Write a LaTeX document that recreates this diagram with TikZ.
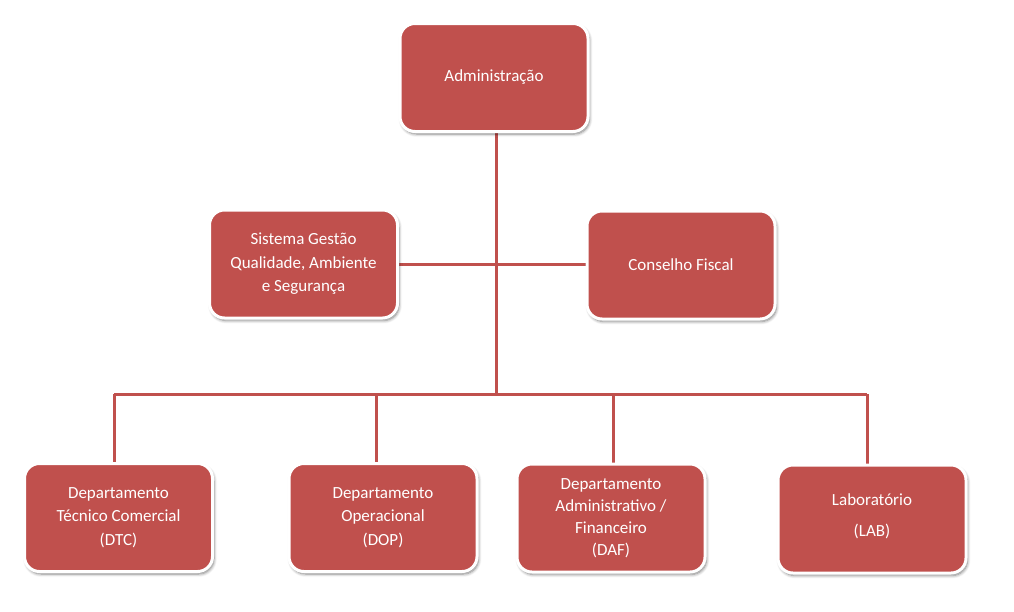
\documentclass[tikz,border=0pt]{standalone}
\usepackage{fontspec}
\setmainfont{Carlito}
\usetikzlibrary{shadows.blur,backgrounds}
\definecolor{boxred}{HTML}{C0504D}
\definecolor{linered}{HTML}{C0504D}
\tikzset{
  orgbox/.style={draw=white, line width=3pt, fill=boxred, rounded corners=15pt,
    minimum width=188pt, minimum height=108pt, align=center, text=white,
    font=\fontsize{17}{23.5}\selectfont,
    blur shadow={shadow xshift=1.5pt, shadow yshift=-2.5pt, shadow blur steps=6, shadow blur radius=3pt, shadow opacity=50}},
  conn/.style={draw=linered, line width=3pt}
}
\begin{document}
\begin{tikzpicture}[x=1pt,y=-1pt]
\useasboundingbox (0,0) rectangle (1014,611);
\node[orgbox] (adm) at (494,77.5) {Administração};
\node[orgbox] (sgq) at (303.5,264) {Sistema Gestão\\Qualidade, Ambiente\\e Segurança};
\node[orgbox] (cf) at (681,265) {Conselho Fiscal};
\node[orgbox] (dtc) at (118.5,517.5) {Departamento\\Técnico Comercial\\(DTC)};
\node[orgbox] (dop) at (383,517.5) {Departamento\\Operacional\\(DOP)};
\node[orgbox, font=\fontsize{17}{22}\selectfont] (daf) at (611,518) {Departamento\\Administrativo /\\Financeiro\\(DAF)};
\node[orgbox, text depth=8pt] (lab) at (872,519) {Laboratório\\[8pt](LAB)};
\coordinate (top) at (496,133);
\coordinate (bus) at (496,394);
\coordinate (b1) at (114,394);
\coordinate (b2) at (376,394);
\coordinate (b3) at (613,394);
\coordinate (b4) at (867,394);
\coordinate (h1) at (398,264);
\coordinate (h2) at (587,264);
\begin{scope}[on background layer]
\draw[conn] (top) -- (bus);
\draw[conn] (h1) -- (h2);
\draw[conn] (b1) -- (b4);
\draw[conn] (b1) -- (b1 |- dtc.north);
\draw[conn] (b2) -- (b2 |- dop.north);
\draw[conn] (b3) -- (b3 |- daf.north);
\draw[conn] (b4) -- (b4 |- lab.north);
\end{scope}
\end{tikzpicture}
\end{document}
